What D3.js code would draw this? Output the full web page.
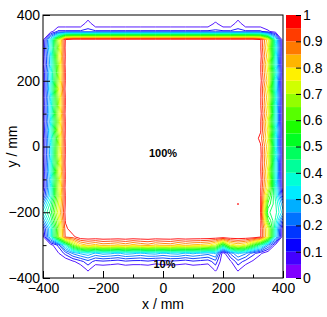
<!DOCTYPE html>
<html>
<head>
<meta charset="utf-8">
<script src="https://cdn.jsdelivr.net/npm/d3@7"></script>
<style>
  body { margin: 0; background: #fff; }
  text { font-family: "Liberation Sans", Arial, Helvetica, sans-serif; }
</style>
</head>
<body>
<div id="chart"></div>
<script>
// contour levels and palette (bottom band first)
const levels = [0.05, 0.1, 0.15, 0.2, 0.25, 0.3, 0.35, 0.4, 0.45, 0.5,
                0.55, 0.6, 0.65, 0.7, 0.75, 0.8, 0.85, 0.9, 0.95];
const paletteColors = ["#8000ff", "#4300ff", "#0700ff", "#0036ff", "#0072ff",
                       "#00afff", "#00ebff", "#00ffd7", "#00ff9a", "#00ff5e",
                       "#00ff22", "#1bff00", "#57ff00", "#93ff00", "#d0ff00",
                       "#fff100", "#ffb500", "#ff7900", "#ff3c00", "#ff0000"];
const axisTicks = [-400, -200, 0, 200, 400];
const minorTicks = [-300, -100, 100, 300];
const colorTicks = [0, 0.1, 0.2, 0.3, 0.4, 0.5, 0.6, 0.7, 0.8, 0.9, 1];

// efficiency map, grid nodes every 25 mm from -400 to 400 (inside = 1)
// top rows: y = 400, 375, 350
const topRows = [
  [0,0,0,0,0,0,0,0,0,0,0,0,0,0,0,0,0,0,0,0,0,0,0,0,0,0,0,0,0,0,0,0,0],
  [0,0,0,0,0,0,0.08,0,0,0,0,0,0,0,0,0,0,0,0,0,0,0,0,0.06,0,0,0.08,0,0,0,0,0,0],
  [0,0.02,0.11,0.11,0.11,0.11,0.11,0.11,0.11,0.11,0.11,0.11,0.11,0.11,0.11,0.11,0.11,
   0.11,0.11,0.11,0.11,0.11,0.11,0.11,0.11,0.11,0.11,0.11,0.11,0.11,0.06,0.02,0]
];
// bottom rows: y = -275, -300, -325, -350, -375, -400
const bottomRows = [
  [0.03,0.31,0.63,0.91,0.93,1,1,1,1,1,1,1,1,1,1,1,1,1,1,1,1,1,1,1,1,1,1,1,1,0.96,0.72,0.31,0],
  [0,0.02,0.11,0.36,0.61,0.76,0.81,0.78,0.82,0.81,0.79,0.82,0.78,0.81,0.83,0.79,0.81,
   0.82,0.78,0.81,0.79,0.78,0.76,0.69,0.46,0.71,0.76,0.72,0.56,0.41,0.21,0.03,0],
  [0,0,0.04,0.12,0.21,0.26,0.29,0.24,0.27,0.26,0.24,0.27,0.26,0.24,0.26,0.27,0.24,
   0.26,0.27,0.24,0.26,0.24,0.22,0.26,0.01,0.16,0.26,0.21,0.12,0.06,0,0,0],
  [0,0,0,0,0.04,0.08,0.13,0.08,0.09,0.08,0.07,0.09,0.08,0.08,0.09,0.07,0.08,
   0.09,0.08,0.07,0.09,0.08,0.07,0.13,0,0.04,0.13,0.08,0.04,0,0,0,0],
  [0,0,0,0,0,0,0.06,0,0,0,0,0,0,0,0,0,0,0,0,0,0,0,0,0.06,0,0,0.06,0,0,0,0,0,0],
  [0,0,0,0,0,0,0,0,0,0,0,0,0,0,0,0,0,0,0,0,0,0,0,0,0,0,0,0,0,0,0,0,0]
];
// side columns, y = 325 down to -250
const leftCols = [ // x = -400, -375, -350, -325
  [0.03,0.04,0.04,0.03,0.04,0.04,0.03,0.04,0.04,0.03,0.04,0.04,0.03,0.04,0.04,0.03,0.04,0.04,0.03,0.08,0.22,0.32,0.21,0.07],
  [0.31,0.33,0.29,0.28,0.32,0.31,0.33,0.29,0.31,0.32,0.29,0.33,0.31,0.29,0.28,0.31,0.32,0.29,0.31,0.33,0.42,0.47,0.41,0.31],
  [0.66,0.62,0.67,0.63,0.61,0.64,0.68,0.64,0.62,0.66,0.63,0.67,0.61,0.64,0.66,0.62,0.67,0.63,0.66,0.64,0.68,0.72,0.66,0.61],
  [0.96,0.97,0.96,0.97,0.96,0.96,0.97,0.96,0.96,0.97,0.96,0.96,0.97,0.96,0.96,0.97,0.96,0.96,0.97,0.96,0.96,0.97,0.96,0.93]
];
const rightCols = [ // x = 325, 350, 375, 400
  [0.96,0.96,0.97,0.96,0.96,0.97,0.96,0.96,0.96,0.97,0.96,0.96,0.93,0.96,0.97,0.96,0.96,0.97,0.96,0.96,0.96,0.96,0.97,0.96],
  [0.76,0.72,0.76,0.71,0.74,0.77,0.72,0.76,0.73,0.76,0.71,0.74,0.72,0.76,0.73,0.76,0.72,0.74,0.71,0.62,0.54,0.46,0.56,0.71],
  [0.34,0.36,0.34,0.33,0.37,0.33,0.34,0.36,0.34,0.33,0.33,0.36,0.34,0.34,0.36,0.33,0.33,0.34,0.36,0.38,0.41,0.42,0.39,0.34],
  [0,0,0,0,0,0,0,0,0,0,0,0,0,0,0,0,0,0,0,0.07,0.21,0.27,0.11,0]
];
const spots = [{x: 250, y: -175, v: 0.945}];

const W = 327, H = 317;
const plotL = 43, plotR = 283, plotT = 15, plotB = 278;

const svg = d3.select("#chart").append("svg")
    .attr("width", W).attr("height", H)
    .style("display", "block");
svg.append("rect").attr("width", W).attr("height", H).attr("fill", "#fff");

const x = d3.scaleLinear().domain([-400, 400]).range([plotL, plotR]);
const y = d3.scaleLinear().domain([-400, 400]).range([plotB, plotT]);
const z = d3.scaleLinear().domain([0, 1]).range([plotB, plotT]);

// build the grid, row 0 = y 400
const n = 33;
const values = new Array(n * n).fill(1);
topRows.forEach((row, k) => row.forEach((v, i) => values[k * n + i] = v));
bottomRows.forEach((row, k) => row.forEach((v, i) => values[(27 + k) * n + i] = v));
leftCols.forEach((col, c) => col.forEach((v, k) => values[(3 + k) * n + c] = v));
rightCols.forEach((col, c) => col.forEach((v, k) => values[(3 + k) * n + 29 + c] = v));
spots.forEach(s => values[((400 - s.y) / 25) * n + (s.x + 400) / 25] = s.v);

const contours = d3.contours().size([n, n]).thresholds(levels)(values);

const gridToPx = d3.geoTransform({
  point(gx, gy) {
    this.stream.point(x(-400 + 25 * (gx - 0.5)), y(400 - 25 * (gy - 0.5)));
  }
});
const path = d3.geoPath(gridToPx);

svg.append("clipPath").attr("id", "frame")
  .append("rect").attr("x", plotL).attr("y", plotT)
  .attr("width", plotR - plotL).attr("height", plotB - plotT);

svg.append("g")
    .attr("clip-path", "url(#frame)")
  .selectAll("path")
  .data(contours)
  .join("path")
    .attr("d", path)
    .attr("fill", "none")
    .attr("stroke", d => paletteColors[Math.round(d.value / 0.05)])
    .attr("stroke-width", 0.9);

// frame
svg.append("rect")
    .attr("x", plotL).attr("y", plotT)
    .attr("width", plotR - plotL).attr("height", plotB - plotT)
    .attr("fill", "none").attr("stroke", "#000").attr("stroke-width", 1);

// axes, ticks pointing inside like ROOT
function styleAxis(g) {
  g.select(".domain").remove();
  g.selectAll("text").attr("font-size", 14).attr("fill", "#000")
    .style("font-family", '"Liberation Sans", Arial, sans-serif');
}
svg.append("g").attr("transform", `translate(0,${plotB})`)
  .call(d3.axisBottom(x).tickValues(axisTicks).tickSize(-7).tickPadding(5))
  .call(styleAxis);
svg.append("g").attr("transform", `translate(0,${plotB})`)
  .call(d3.axisBottom(x).tickValues(minorTicks).tickSize(-3.5).tickFormat(""))
  .call(styleAxis);
svg.append("g").attr("transform", `translate(${plotL},0)`)
  .call(d3.axisLeft(y).tickValues(axisTicks).tickSize(-7).tickPadding(3))
  .call(styleAxis);
svg.append("g").attr("transform", `translate(${plotL},0)`)
  .call(d3.axisLeft(y).tickValues(minorTicks).tickSize(-3.5).tickFormat(""))
  .call(styleAxis);

// axis titles
svg.append("text").attr("x", (plotL + plotR) / 2).attr("y", 309)
    .attr("text-anchor", "middle").attr("font-size", 14).text("x / mm");
svg.append("text").attr("transform", `translate(17,${(plotT + plotB) / 2}) rotate(-90)`)
    .attr("text-anchor", "middle").attr("font-size", 14).text("y / mm");

// labels in the plot
svg.append("text").attr("x", x(0)).attr("y", 157)
    .attr("text-anchor", "middle").attr("font-size", 11).attr("font-weight", "bold")
    .text("100%");
svg.append("text").attr("x", x(5)).attr("y", 267.5)
    .attr("text-anchor", "middle").attr("font-size", 11).attr("font-weight", "bold")
    .text("10%");

// colour bar
const barL = 286, barR = 301;
const bandEdges = [0].concat(levels, [1]);
svg.append("g").selectAll("rect")
  .data(paletteColors)
  .join("rect")
    .attr("x", barL)
    .attr("y", (c, k) => z(bandEdges[k + 1]))
    .attr("width", barR - barL)
    .attr("height", (c, k) => z(bandEdges[k]) - z(bandEdges[k + 1]))
    .attr("fill", c => c);
svg.append("g").attr("transform", `translate(${barR},0)`)
  .call(d3.axisRight(z).tickValues(colorTicks).tickSize(-5).tickPadding(2)
        .tickFormat(d3.format("")))
  .call(styleAxis);
</script>
</body>
</html>
